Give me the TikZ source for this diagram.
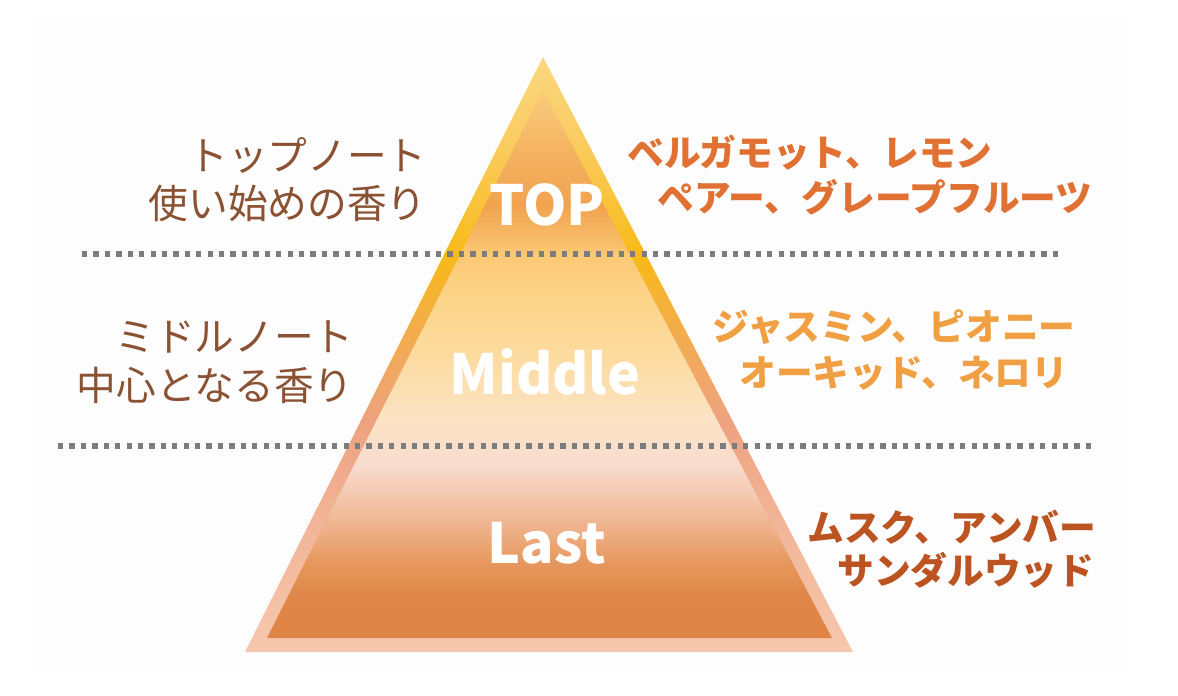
\documentclass[tikz,border=0pt]{standalone}
\usepackage{fontspec}
\usepackage{xcolor}
\usepackage{tikz}
\usetikzlibrary{positioning}

\newfontfamily\jpfont{Noto Sans CJK JP}

\definecolor{panel}{HTML}{FDFDFD}
\definecolor{notebrown}{HTML}{8A5232}
\definecolor{topscent}{HTML}{E07132}
\definecolor{midscent}{HTML}{F0A043}
\definecolor{lastscent}{HTML}{BB5420}
\definecolor{dotgray}{HTML}{7C7C7C}
% rim of the pyramid
\definecolor{rimA}{HTML}{FCD780}
\definecolor{rimB}{HTML}{FACB5C}
\definecolor{rimC}{HTML}{F8BA17}
\definecolor{rimD}{HTML}{F3AD4C}
\definecolor{rimE}{HTML}{EEA27F}
\definecolor{rimF}{HTML}{F2B497}
\definecolor{rimG}{HTML}{F6C8AE}
% inside of the pyramid
\definecolor{inA}{HTML}{F9CC7C}
\definecolor{inB}{HTML}{F5B462}
\definecolor{inC}{HTML}{F1A24F}
\definecolor{inD}{HTML}{FBC874}
\definecolor{inE}{HTML}{FCD386}
\definecolor{inF}{HTML}{FCDCA2}
\definecolor{inG}{HTML}{FBE3C5}
\definecolor{inH}{HTML}{F8DCCF}
\definecolor{inI}{HTML}{F0B794}
\definecolor{inJ}{HTML}{E7995F}
\definecolor{inK}{HTML}{DF8648}
\definecolor{inL}{HTML}{DE8446}

\begin{document}
\begin{tikzpicture}[x=0.02cm,y=-0.02cm,
    note/.style={font=\jpfont\fontsize{22.6}{26}\selectfont,text=notebrown,inner sep=0pt,anchor=east},
    scent/.style={font=\jpfont\bfseries\fontsize{20.9}{24}\selectfont,inner sep=0pt,anchor=west},
    layer/.style={font=\jpfont\bfseries\fontsize{31.5}{36}\selectfont,text=white,inner sep=0pt},
    divider/.style={dotgray,line width=3.1pt,dash pattern=on 3pt off 3.5pt}]
    \useasboundingbox (0,0) rectangle (1178,696);
    \fill[white] (0,0) rectangle (1178,696);
    \fill[panel] (30,20) rectangle (1128,672);

    \coordinate (apex) at (543,57);
    \coordinate (bl) at (245,652);
    \coordinate (br) at (853,652);
    \coordinate (iapex) at (543,90);
    \coordinate (ibl) at (267,638);
    \coordinate (ibr) at (832,638);

    % rim
    \begin{scope}
        \clip (apex) -- (br) -- (bl) -- cycle;
        \foreach \ya/\yb/\ca/\cb in {57/150/rimA/rimB, 150/254/rimB/rimC, 254/330/rimC/rimD,
                                     330/420/rimD/rimE, 420/520/rimE/rimF, 520/652/rimF/rimG}
            \shade[top color=\ca,bottom color=\cb] (230,\ya) rectangle (870,\yb+1);
    \end{scope}

    % inside
    \begin{scope}
        \clip (iapex) -- (ibr) -- (ibl) -- cycle;
        \foreach \ya/\yb/\ca/\cb in {90/150/inA/inB, 150/205/inB/inC, 205/254/inC/inD,
                                     254/290/inD/inE, 290/360/inE/inF, 360/420/inF/inG,
                                     420/465/inG/inH, 465/520/inH/inI, 520/560/inI/inJ,
                                     560/595/inJ/inK, 595/638/inK/inL}
            \shade[top color=\ca,bottom color=\cb] (250,\ya) rectangle (850,\yb+1);
    \end{scope}

    \draw[divider] (82,254) -- (1058,254);
    \draw[divider] (58,446) -- (1095,446);

    \node[layer] (top) at (547,205) {TOP};
    \node[layer] (middle) at (545,372) {Middle};
    \node[layer] (last) at (547,543) {Last};

    \node[note] (topnote) at (427,155) {トップノート};
    \node[note] (topdesc) at (427,203) {使い始めの香り};
    \node[note] (midnote) at (354,337) {ミドルノート};
    \node[note] (middesc) at (354,385) {中心となる香り};

    \node[scent,text=topscent] (topa) at (627,153) {ベルガモット、レモン};
    \node[scent,text=topscent] (topb) at (657,197) {ペアー、グレープフルーツ};
    \node[scent,text=midscent] (mida) at (712,327) {ジャスミン、ピオニー};
    \node[scent,text=midscent] (midb) at (739,373) {オーキッド、ネロリ};
    \node[scent,text=lastscent] (lasta) at (807,527) {ムスク、アンバー};
    \node[scent,text=lastscent] (lastb) at (837,570) {サンダルウッド};
\end{tikzpicture}
\end{document}
